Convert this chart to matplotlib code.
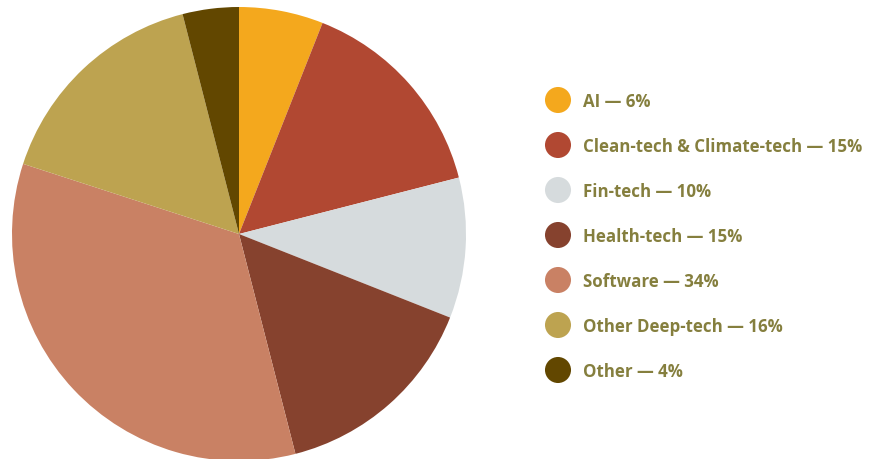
import matplotlib.pyplot as plt

sectors = ['AI', 'Clean-tech & Climate-tech', 'Fin-tech', 'Health-tech',
           'Software', 'Other Deep-tech', 'Other']
shares = [6, 15, 10, 15, 34, 16, 4]
colors = ['#F4A81D', '#B14832', '#D6DBDD', '#86422E',
          '#C98164', '#BDA350', '#624700']
text_color = '#857F3E'

W, H = 870, 460
fig = plt.figure(figsize=(W / 100, H / 100), dpi=100)

# pie: centre (239, 235) px, radius 227 px
cx, cy, r = 239, 235, 227
ax = fig.add_axes([(cx - r) / W, (H - cy - r) / H, 2 * r / W, 2 * r / H])
ax.pie(shares, colors=colors, startangle=90, counterclock=False,
       radius=1, wedgeprops=dict(linewidth=0))
ax.set_xlim(-1, 1)
ax.set_ylim(-1, 1)
ax.set_aspect('equal')
ax.axis('off')

# legend drawn in pixel space
lg = fig.add_axes([0, 0, 1, 1])
lg.set_xlim(0, W)
lg.set_ylim(H, 0)
lg.axis('off')
for i, (name, val, col) in enumerate(zip(sectors, shares, colors)):
    y = 101 + 45 * i
    lg.scatter(558, y, s=26 ** 2 * 0.52, color=col, edgecolors='none')
    lg.text(583, y + 1, f'{name} — {val}%', color=text_color, fontsize=12.2,
            fontweight='bold', family='Open Sans', va='center', ha='left')

fig.savefig('out.png', dpi=100)
